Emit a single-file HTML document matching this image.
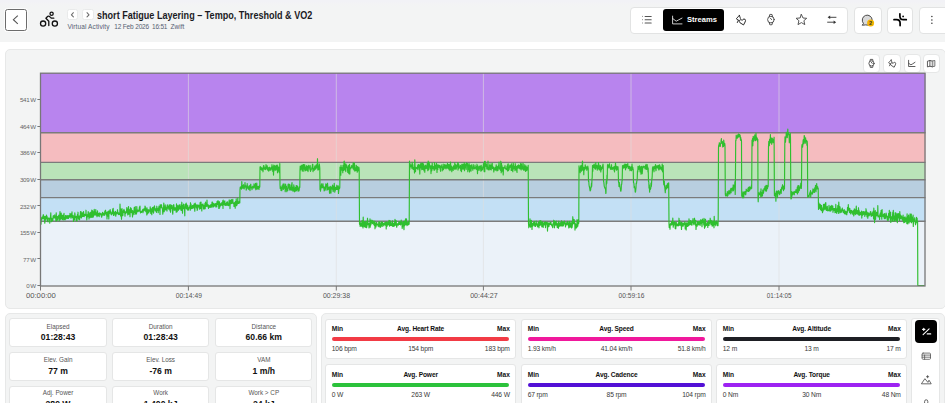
<!DOCTYPE html>
<html><head><meta charset="utf-8">
<style>
*{box-sizing:border-box;margin:0;padding:0}
html,body{width:945px;height:403px;overflow:hidden;background:#fff;font-family:"Liberation Sans",sans-serif;position:relative}
.abs{position:absolute}
#hdr{left:0;top:0;width:945px;height:41.5px;background:linear-gradient(#f2f2f6 0,#f2f2f6 1.8px,#f3f3f5 3px,#f3f4f4 7px)}
.back{left:5px;top:9px;width:22px;height:22px;border:1.3px solid #6c6c6c;border-radius:2.6px;background:#fff;box-shadow:0 0 0 1px rgba(255,255,255,0.7)}
.nb{width:11.3px;height:11.3px;background:#fff;border-radius:2.5px;top:9.1px;border:1px solid #e9eaea}
.title{left:97.1px;top:9.6px;font-size:10px;font-weight:bold;color:#1b1b1f;white-space:nowrap;transform:scaleX(0.906);transform-origin:0 0}
.sub{top:22.8px;font-size:6.5px;color:#566072;white-space:nowrap}
.grp{background:#fff;border-radius:4px;border:1px solid #e2e3e3}
.streams{left:663.2px;top:8.5px;width:61px;height:22.3px;background:#000;border-radius:3px}
.card{background:#f3f4f4;border:1px solid #e7e8e8;border-radius:5px}
.wc{background:#fff;border:1px solid #e5e6e6;border-radius:3px}
.lbl{font-size:6.9px;color:#555;text-align:center;width:100%;position:absolute;left:0;transform:scaleX(0.92)}
.val{font-size:9.8px;font-weight:bold;color:#111;text-align:center;width:100%;position:absolute;left:0;transform:scaleX(0.88)}
.mt{font-size:6.6px;font-weight:bold;color:#111;position:absolute;white-space:nowrap}
.mv{font-size:6.7px;color:#383838;position:absolute;white-space:nowrap;letter-spacing:-0.15px}
.bar{position:absolute;height:4px;border-radius:2px}
</style></head><body>
<div id="hdr" class="abs"></div>
<div class="abs back"></div>
<svg class="abs" style="left:0;top:0" width="945" height="403" viewBox="0 0 945 403">
 <!-- back chevron -->
 <path d="M17.8 15.6 L13.4 19.7 L17.8 23.8" fill="none" stroke="#555" stroke-width="1.1"/>
</svg>
<div class="abs nb" style="left:67.2px"></div>
<div class="abs nb" style="left:82.4px"></div>
<div class="abs title">short Fatigue Layering – Tempo, Threshold &amp; VO2</div>
<div class="abs sub" style="left:67.4px;letter-spacing:0.12px">Virtual Activity</div><div class="abs sub" style="left:114.2px;letter-spacing:-0.15px">12 Feb 2026</div><div class="abs sub" style="left:152px;letter-spacing:-0.2px">16:51</div><div class="abs sub" style="left:170.6px">Zwift</div>

<!-- toolbar -->
<div class="abs grp" style="left:630.3px;top:6.5px;width:218.2px;height:27.8px"></div>
<div class="abs streams"></div>
<div class="abs grp" style="left:853.7px;top:6.5px;width:28.4px;height:27.8px"></div>
<div class="abs grp" style="left:887.3px;top:6.5px;width:26px;height:27.8px"></div>
<div class="abs grp" style="left:918.7px;top:6.5px;width:40px;height:27.8px"></div>
<div class="abs" style="left:687px;top:14.5px;font-size:7.6px;font-weight:bold;color:#fff">Streams</div>

<!-- chart card -->
<div class="abs card" style="left:5px;top:49.3px;width:941px;height:259.6px"></div>
<div class="abs wc" style="left:862.8px;top:54px;width:17.6px;height:18.5px;border-color:#e6e7e7;border-radius:4px"></div>
<div class="abs wc" style="left:883.3px;top:54px;width:17.6px;height:18.5px;border-color:#e6e7e7;border-radius:4px"></div>
<div class="abs wc" style="left:903.5px;top:54px;width:17.1px;height:18.5px;border-color:#e6e7e7;border-radius:4px"></div>
<div class="abs wc" style="left:922.5px;top:54px;width:17.9px;height:18.5px;border-color:#e6e7e7;border-radius:4px"></div>

<!-- bottom panels -->
<div class="abs card" style="left:5px;top:313.2px;width:311.6px;height:120px"></div>
<div class="abs card" style="left:320.9px;top:313.2px;width:624.5px;height:120px"></div>

<svg class="abs" style="left:0;top:0" width="945" height="403" viewBox="0 0 945 403" font-family="Liberation Sans, sans-serif">
 <!-- zones -->
 <rect x="40.5" y="73" width="885" height="59.7" fill="#b884ee"/>
 <rect x="40.5" y="132.7" width="885" height="29.7" fill="#f5bcbf"/>
 <rect x="40.5" y="162.4" width="885" height="17.3" fill="#bae3b9"/>
 <rect x="40.5" y="179.7" width="885" height="17.9" fill="#b8cedf"/>
 <rect x="40.5" y="197.6" width="885" height="23.6" fill="#c3e0f5"/>
 <rect x="40.5" y="221.2" width="885" height="64.8" fill="#ebf2f9"/>
 <!-- grid -->
 <g stroke="#dedede" stroke-opacity="0.6" stroke-width="1">
  <line x1="188.4" y1="73" x2="188.4" y2="286"/>
  <line x1="336.3" y1="73" x2="336.3" y2="286"/>
  <line x1="483.4" y1="73" x2="483.4" y2="286"/>
  <line x1="631" y1="73" x2="631" y2="286"/>
  <line x1="779" y1="73" x2="779" y2="286"/>
 </g>
 <!-- boundaries -->
 <g stroke="#7b7b7b" stroke-width="1.4">
  <line x1="40.5" y1="132.7" x2="925.5" y2="132.7"/>
  <line x1="40.5" y1="162.4" x2="925.5" y2="162.4"/>
  <line x1="40.5" y1="179.7" x2="925.5" y2="179.7"/>
  <line x1="40.5" y1="197.6" x2="925.5" y2="197.6"/>
  <line x1="40.5" y1="221.2" x2="925.5" y2="221.2"/>
 </g>
 <path d="M40.5 218.5 40.8 217.0 41.0 224.1 41.2 219.7 41.5 218.3 41.8 218.7 42.0 219.3 42.2 217.0 42.5 217.9 42.8 218.5 43.0 216.6 43.2 214.8 43.5 214.9 43.8 218.5 44.0 219.1 44.2 216.6 44.5 218.7 44.8 223.2 45.0 220.8 45.2 216.4 45.5 220.0 45.8 219.9 46.0 218.0 46.2 218.6 46.5 215.0 46.8 216.8 47.0 216.4 47.2 217.0 47.5 220.4 47.8 221.3 48.0 221.9 48.2 218.2 48.5 218.1 48.8 218.0 49.0 218.8 49.2 218.7 49.5 218.3 49.8 223.1 50.0 218.0 50.2 219.2 50.5 216.7 50.8 212.8 51.0 218.2 51.2 218.9 51.5 221.7 51.8 218.3 52.0 219.5 52.2 219.9 52.5 220.7 52.8 220.7 53.0 217.8 53.2 215.9 53.5 216.9 53.8 215.7 54.0 216.0 54.2 218.1 54.5 217.0 54.8 214.8 55.0 216.8 55.2 217.0 55.5 217.7 55.8 219.5 56.0 221.2 56.2 212.8 56.5 218.4 56.8 218.1 57.0 220.5 57.2 216.6 57.5 219.9 57.8 218.0 58.0 217.1 58.2 216.1 58.5 217.8 58.8 215.2 59.0 218.1 59.2 220.9 59.5 218.6 59.8 214.1 60.0 211.6 60.2 217.2 60.5 218.2 60.8 219.8 61.0 217.0 61.2 213.0 61.5 217.7 61.8 218.5 62.0 218.4 62.2 215.4 62.5 219.6 62.8 218.6 63.0 217.1 63.2 215.0 63.5 215.4 63.8 220.0 64.0 213.3 64.2 219.7 64.5 217.8 64.8 217.8 65.0 219.1 65.2 219.8 65.5 215.5 65.8 215.5 66.0 218.7 66.2 216.0 66.5 217.2 66.8 218.2 67.0 215.5 67.2 216.0 67.5 218.3 67.8 215.8 68.0 218.4 68.2 215.6 68.5 218.4 68.8 216.2 69.0 216.8 69.2 215.6 69.5 217.1 69.8 217.0 70.0 213.3 70.2 214.2 70.5 216.8 70.8 214.3 71.0 218.2 71.2 215.4 71.5 213.5 71.8 216.2 72.0 211.9 72.2 217.0 72.5 217.7 72.8 215.8 73.0 216.9 73.2 215.4 73.5 221.5 73.8 216.9 74.0 217.9 74.2 218.7 74.5 219.9 74.8 212.8 75.0 214.4 75.2 217.4 75.5 217.2 75.8 217.8 76.0 216.6 76.2 220.7 76.5 217.7 76.8 216.2 77.0 221.0 77.2 218.1 77.5 214.4 77.8 216.8 78.0 212.2 78.2 217.8 78.5 218.4 78.8 219.3 79.0 216.4 79.2 216.1 79.5 219.8 79.8 217.7 80.0 215.8 80.2 217.6 80.5 211.6 80.8 214.2 81.0 211.6 81.2 215.4 81.5 218.0 81.8 214.5 82.0 212.9 82.2 216.5 82.5 212.8 82.8 215.5 83.0 212.9 83.2 216.4 83.5 211.6 83.8 214.3 84.0 215.7 84.2 216.7 84.5 215.2 84.8 214.3 85.0 215.5 85.2 215.0 85.5 214.7 85.8 215.5 86.0 210.2 86.2 215.0 86.5 216.4 86.8 219.9 87.0 217.5 87.2 214.7 87.5 216.7 87.8 216.8 88.0 214.3 88.2 211.5 88.5 213.4 88.8 214.0 89.0 219.1 89.2 217.4 89.5 217.5 89.8 212.9 90.0 214.5 90.2 212.7 90.5 217.0 90.8 217.6 91.0 212.2 91.2 216.1 91.5 214.8 91.8 210.1 92.0 217.4 92.2 215.4 92.5 210.9 92.8 211.0 93.0 212.3 93.2 217.2 93.5 215.9 93.8 215.3 94.0 214.2 94.2 209.4 94.5 211.7 94.8 214.9 95.0 214.0 95.2 213.9 95.5 214.4 95.8 209.6 96.0 215.3 96.2 214.2 96.5 214.0 96.8 212.8 97.0 216.7 97.2 216.2 97.5 210.9 97.8 215.2 98.0 214.1 98.2 215.5 98.5 213.3 98.8 213.7 99.0 216.5 99.2 216.7 99.5 213.7 99.8 212.8 100.0 214.2 100.2 214.1 100.5 213.7 100.8 215.0 101.0 214.1 101.2 213.9 101.5 217.1 101.8 216.9 102.0 213.5 102.2 215.7 102.5 212.3 102.8 212.9 103.0 214.7 103.2 214.1 103.5 215.1 103.8 213.2 104.0 214.4 104.2 215.4 104.5 214.7 104.8 211.2 105.0 213.9 105.2 212.7 105.5 210.2 105.8 212.4 106.0 213.3 106.2 215.0 106.5 212.4 106.8 214.3 107.0 218.9 107.2 215.3 107.5 211.9 107.8 216.2 108.0 213.5 108.2 214.6 108.5 211.0 108.8 218.9 109.0 213.3 109.2 212.0 109.5 210.8 109.8 213.3 110.0 209.9 110.2 209.7 110.5 212.0 110.8 211.6 111.0 214.1 111.2 213.0 111.5 214.8 111.8 212.8 112.0 213.1 112.2 214.0 112.5 211.2 112.8 208.9 113.0 213.2 113.2 208.3 113.5 215.4 113.8 211.6 114.0 212.9 114.2 212.9 114.5 214.0 114.8 212.4 115.0 215.2 115.2 212.8 115.5 211.3 115.8 216.1 116.0 212.3 116.2 212.6 116.5 213.9 116.8 213.1 117.0 213.9 117.2 213.3 117.5 209.7 117.8 212.7 118.0 212.4 118.2 212.7 118.5 214.6 118.8 213.4 119.0 213.2 119.2 214.5 119.5 214.5 119.8 214.1 120.0 204.0 120.2 208.4 120.5 215.9 120.8 212.8 121.0 209.2 121.2 213.2 121.5 219.3 121.8 211.0 122.0 208.5 122.2 212.6 122.5 215.7 122.8 215.6 123.0 213.7 123.2 211.5 123.5 210.1 123.8 211.6 124.0 209.4 124.2 212.5 124.5 210.5 124.8 213.1 125.0 216.1 125.2 212.5 125.5 212.5 125.8 211.8 126.0 213.3 126.2 211.2 126.5 211.2 126.8 207.5 127.0 208.6 127.2 212.5 127.5 212.2 127.8 214.9 128.0 212.1 128.2 209.2 128.5 206.6 128.8 214.2 129.0 209.4 129.2 213.2 129.5 210.0 129.8 210.3 130.0 216.7 130.2 211.2 130.5 207.7 130.8 212.5 131.0 212.0 131.2 208.3 131.5 211.2 131.8 212.9 132.0 210.3 132.2 211.9 132.5 216.9 132.8 210.7 133.0 211.8 133.2 214.8 133.5 213.0 133.8 212.6 134.0 211.7 134.2 207.5 134.5 208.7 134.8 210.1 135.0 214.5 135.2 206.6 135.5 212.0 135.8 212.1 136.0 213.4 136.2 210.0 136.5 213.9 136.8 206.5 137.0 210.5 137.2 210.1 137.5 209.8 137.8 211.9 138.0 210.4 138.2 211.2 138.5 210.6 138.8 211.1 139.0 209.7 139.2 209.3 139.5 206.8 139.8 211.2 140.0 206.1 140.2 211.0 140.5 213.0 140.8 212.1 141.0 211.6 141.2 211.9 141.5 212.4 141.8 212.0 142.0 210.9 142.2 211.5 142.5 209.9 142.8 210.6 143.0 212.7 143.2 209.0 143.5 210.8 143.8 209.1 144.0 211.0 144.2 209.4 144.5 208.5 144.8 210.2 145.0 206.1 145.2 206.3 145.5 208.7 145.8 211.6 146.0 209.3 146.2 208.9 146.5 208.7 146.8 215.0 147.0 207.7 147.2 211.0 147.5 213.9 147.8 211.6 148.0 209.8 148.2 209.6 148.5 212.5 148.8 212.8 149.0 210.7 149.2 210.1 149.5 210.8 149.8 210.6 150.0 211.2 150.2 206.8 150.5 210.6 150.8 213.4 151.0 208.7 151.2 212.2 151.5 209.7 151.8 214.7 152.0 208.7 152.2 208.8 152.5 207.5 152.8 211.3 153.0 207.3 153.2 212.0 153.5 213.2 153.8 210.8 154.0 206.7 154.2 209.2 154.5 205.9 154.8 208.7 155.0 208.2 155.2 210.8 155.5 210.7 155.8 210.1 156.0 208.8 156.2 211.6 156.5 212.4 156.8 206.2 157.0 209.3 157.2 208.0 157.5 210.3 157.8 210.2 158.0 209.4 158.2 212.6 158.5 207.9 158.8 210.1 159.0 206.0 159.2 208.2 159.5 210.1 159.8 209.6 160.0 214.5 160.2 204.5 160.5 207.2 160.8 207.7 161.0 207.1 161.2 207.0 161.5 204.7 161.8 207.6 162.0 207.2 162.2 207.5 162.5 209.7 162.8 214.1 163.0 212.5 163.2 209.0 163.5 208.7 163.8 203.1 164.0 211.6 164.2 211.6 164.5 208.7 164.8 209.3 165.0 207.0 165.2 204.8 165.5 209.9 165.8 206.9 166.0 209.3 166.2 207.5 166.5 209.3 166.8 210.3 167.0 211.1 167.2 205.1 167.5 206.4 167.8 204.9 168.0 208.1 168.2 206.0 168.5 207.9 168.8 207.9 169.0 209.3 169.2 208.5 169.5 204.9 169.8 208.7 170.0 210.6 170.2 209.3 170.5 212.2 170.8 204.6 171.0 208.6 171.2 208.5 171.5 205.8 171.8 205.5 172.0 208.8 172.2 208.6 172.5 211.6 172.8 214.1 173.0 208.4 173.2 205.5 173.5 205.0 173.8 204.6 174.0 206.7 174.2 210.1 174.5 209.2 174.8 207.9 175.0 210.1 175.2 207.9 175.5 208.7 175.8 209.8 176.0 207.5 176.2 212.3 176.5 203.8 176.8 205.6 177.0 206.9 177.2 211.6 177.5 207.6 177.8 205.7 178.0 207.0 178.2 209.5 178.5 210.3 178.8 207.3 179.0 205.1 179.2 209.2 179.5 208.9 179.8 206.0 180.0 204.6 180.2 208.1 180.5 206.0 180.8 209.8 181.0 207.0 181.2 210.5 181.5 206.5 181.8 202.2 182.0 206.5 182.2 208.4 182.5 213.2 182.8 205.5 183.0 207.6 183.2 208.2 183.5 204.0 183.8 208.6 184.0 206.8 184.2 207.2 184.5 208.0 184.8 215.8 185.0 204.5 185.2 208.8 185.5 204.2 185.8 205.6 186.0 206.3 186.2 203.1 186.5 208.6 186.8 204.6 187.0 208.5 187.2 209.3 187.5 206.6 187.8 205.7 188.0 210.5 188.2 207.2 188.5 209.6 188.8 208.1 189.0 207.9 189.2 207.6 189.5 207.9 189.8 206.3 190.0 205.4 190.2 210.3 190.5 202.7 190.8 209.0 191.0 204.0 191.2 208.5 191.5 206.1 191.8 207.0 192.0 208.4 192.2 206.6 192.5 205.5 192.8 207.6 193.0 208.5 193.2 205.5 193.5 205.3 193.8 207.1 194.0 207.3 194.2 203.8 194.5 207.0 194.8 211.1 195.0 207.7 195.2 203.0 195.5 205.2 195.8 205.9 196.0 207.0 196.2 204.9 196.5 207.9 196.8 206.6 197.0 205.1 197.2 210.4 197.5 209.4 197.8 207.8 198.0 204.8 198.2 206.2 198.5 206.8 198.8 206.5 199.0 205.3 199.2 206.8 199.5 207.8 199.8 209.3 200.0 203.8 200.2 202.3 200.5 206.7 200.8 208.5 201.0 202.1 201.2 207.2 201.5 205.8 201.8 211.0 202.0 205.2 202.2 204.3 202.5 205.5 202.8 204.5 203.0 204.0 203.2 205.6 203.5 208.4 203.8 205.5 204.0 209.3 204.2 208.4 204.5 205.8 204.8 205.1 205.0 203.4 205.2 208.6 205.5 202.1 205.8 204.8 206.0 203.2 206.2 206.4 206.5 206.2 206.8 203.5 207.0 200.1 207.2 205.0 207.5 204.4 207.8 206.6 208.0 206.3 208.2 204.9 208.5 208.5 208.8 206.1 209.0 207.1 209.2 205.9 209.5 206.7 209.8 207.3 210.0 205.4 210.2 205.2 210.5 206.2 210.8 207.4 211.0 204.5 211.2 207.5 211.5 204.8 211.8 206.4 212.0 202.3 212.2 201.9 212.5 205.1 212.8 202.8 213.0 207.3 213.2 205.9 213.5 204.1 213.8 203.7 214.0 206.5 214.2 205.7 214.5 204.4 214.8 204.7 215.0 205.4 215.2 203.5 215.5 204.1 215.8 206.9 216.0 206.1 216.2 203.6 216.5 206.4 216.8 207.0 217.0 201.6 217.2 204.4 217.5 201.8 217.8 204.5 218.0 200.5 218.2 201.5 218.5 202.4 218.8 208.5 219.0 203.1 219.2 208.5 219.5 201.7 219.8 206.4 220.0 206.9 220.2 203.5 220.5 205.2 220.8 204.2 221.0 205.5 221.2 203.8 221.5 204.2 221.8 202.6 222.0 203.3 222.2 205.3 222.5 204.2 222.8 200.6 223.0 208.5 223.2 200.1 223.5 204.6 223.8 201.6 224.0 201.5 224.2 203.3 224.5 204.5 224.8 200.8 225.0 205.5 225.2 204.4 225.5 203.5 225.8 203.5 226.0 205.4 226.2 203.2 226.5 205.3 226.8 202.1 227.0 204.0 227.2 204.7 227.5 201.9 227.8 205.4 228.0 203.8 228.2 203.9 228.5 205.6 228.8 205.1 229.0 202.0 229.2 199.9 229.5 205.1 229.8 201.6 230.0 208.6 230.2 202.6 230.5 200.2 230.8 202.9 231.0 203.7 231.2 203.3 231.5 199.5 231.8 203.5 232.0 200.4 232.2 203.2 232.5 200.1 232.8 199.4 233.0 202.0 233.2 203.4 233.5 203.1 233.8 203.5 234.0 206.4 234.2 202.8 234.5 204.9 234.8 205.4 235.0 202.1 235.2 208.2 235.5 201.5 235.8 204.0 236.0 204.3 236.2 198.9 236.5 205.7 236.8 201.0 237.0 205.1 237.2 204.0 237.5 203.6 237.8 198.0 238.0 203.4 238.2 202.7 238.5 202.7 238.8 203.5 239.0 202.5 239.2 201.4 239.5 201.5 239.8 202.9 240.0 189.4 240.2 187.4 240.5 186.9 240.8 187.9 241.0 188.3 241.2 188.9 241.5 189.2 241.8 181.5 242.0 185.7 242.2 187.6 242.5 185.5 242.8 188.3 243.0 188.1 243.2 186.9 243.5 184.7 243.8 186.9 244.0 188.5 244.2 189.0 244.5 186.1 244.8 186.6 245.0 182.5 245.2 185.8 245.5 187.1 245.8 185.8 246.0 186.1 246.2 190.2 246.5 189.0 246.8 185.8 247.0 188.3 247.2 183.5 247.5 188.0 247.8 185.9 248.0 186.2 248.2 187.8 248.5 189.3 248.8 187.1 249.0 189.2 249.2 189.1 249.5 185.7 249.8 189.7 250.0 190.6 250.2 188.4 250.5 184.7 250.8 184.2 251.0 187.4 251.2 187.8 251.5 187.8 251.8 187.2 252.0 189.6 252.2 187.3 252.5 186.7 252.8 186.2 253.0 187.9 253.2 187.3 253.5 186.8 253.8 188.0 254.0 183.8 254.2 184.9 254.5 187.0 254.8 185.9 255.0 185.5 255.2 188.3 255.5 183.4 255.8 189.8 256.0 187.1 256.2 188.7 256.5 188.4 256.8 183.0 257.0 189.2 257.2 187.8 257.5 187.0 257.8 189.0 258.0 186.3 258.2 186.9 258.5 188.0 258.8 187.1 259.0 189.5 259.2 186.0 259.5 187.4 259.8 186.7 260.0 167.3 260.2 166.6 260.5 167.0 260.8 167.0 261.0 169.5 261.2 167.5 261.5 169.9 261.8 169.8 262.0 167.8 262.2 170.1 262.5 168.7 262.8 168.7 263.0 171.8 263.2 169.4 263.5 165.5 263.8 166.8 264.0 165.7 264.2 168.6 264.5 167.5 264.8 169.3 265.0 168.5 265.2 169.7 265.5 167.2 265.8 169.5 266.0 164.6 266.2 168.6 266.5 166.7 266.8 166.1 267.0 168.2 267.2 165.7 267.5 169.8 267.8 167.2 268.0 168.8 268.2 170.5 268.5 171.1 268.8 170.1 269.0 167.7 269.2 170.7 269.5 167.2 269.8 168.5 270.0 169.4 270.2 169.3 270.5 168.9 270.8 170.5 271.0 167.6 271.2 169.7 271.5 168.7 271.8 166.5 272.0 164.7 272.2 167.2 272.5 168.4 272.8 171.5 273.0 166.9 273.2 167.1 273.5 175.1 273.8 165.0 274.0 170.9 274.2 166.4 274.5 165.7 274.8 167.7 275.0 166.4 275.2 170.0 275.5 170.2 275.8 165.9 276.0 169.0 276.2 167.5 276.5 165.4 276.8 169.9 277.0 169.7 277.2 165.1 277.5 172.8 277.8 166.0 278.0 172.0 278.2 167.8 278.5 167.4 278.8 170.2 279.0 169.1 279.2 170.4 279.5 172.7 279.8 163.6 280.0 184.8 280.2 188.5 280.5 186.6 280.8 187.5 281.0 190.5 281.2 188.0 281.5 187.6 281.8 190.7 282.0 185.9 282.2 188.1 282.5 186.3 282.8 185.7 283.0 184.0 283.2 189.5 283.5 189.1 283.8 184.3 284.0 183.8 284.2 185.6 284.5 188.0 284.8 188.6 285.0 186.4 285.2 191.7 285.5 184.1 285.8 185.1 286.0 188.1 286.2 189.9 286.5 186.6 286.8 191.6 287.0 188.0 287.2 189.2 287.5 189.5 287.8 190.6 288.0 185.2 288.2 184.1 288.5 186.2 288.8 187.4 289.0 184.0 289.2 188.6 289.5 188.8 289.8 190.2 290.0 184.7 290.2 188.7 290.5 188.4 290.8 189.9 291.0 187.4 291.2 190.1 291.5 185.9 291.8 184.0 292.0 182.6 292.2 190.1 292.5 187.0 292.8 187.9 293.0 191.1 293.2 190.0 293.5 191.0 293.8 184.8 294.0 188.2 294.2 186.6 294.5 191.8 294.8 189.7 295.0 191.4 295.2 190.8 295.5 187.6 295.8 189.9 296.0 190.8 296.2 185.5 296.5 190.8 296.8 188.5 297.0 185.6 297.2 189.5 297.5 189.0 297.8 186.5 298.0 191.1 298.2 190.8 298.5 188.5 298.8 188.1 299.0 191.0 299.2 189.8 299.5 186.7 299.8 187.5 300.0 170.0 300.2 166.2 300.5 170.0 300.8 169.6 301.0 169.3 301.2 165.7 301.5 167.3 301.8 167.0 302.0 165.1 302.2 171.0 302.5 170.1 302.8 167.5 303.0 164.8 303.2 171.3 303.5 164.6 303.8 167.4 304.0 164.6 304.2 167.3 304.5 169.4 304.8 164.8 305.0 170.9 305.2 166.5 305.5 169.2 305.8 170.3 306.0 168.6 306.2 169.6 306.5 166.6 306.8 165.5 307.0 170.4 307.2 167.6 307.5 167.2 307.8 166.5 308.0 171.6 308.2 170.2 308.5 166.2 308.8 165.3 309.0 168.0 309.2 166.7 309.5 167.7 309.8 168.1 310.0 170.0 310.2 165.5 310.5 171.4 310.8 169.9 311.0 170.1 311.2 169.0 311.5 169.2 311.8 168.9 312.0 167.3 312.2 167.4 312.5 164.4 312.8 164.3 313.0 171.6 313.2 168.5 313.5 168.6 313.8 170.0 314.0 169.1 314.2 170.4 314.5 166.9 314.8 168.6 315.0 165.9 315.2 169.3 315.5 167.5 315.8 168.1 316.0 168.8 316.2 164.8 316.5 165.3 316.8 167.6 317.0 166.8 317.2 167.1 317.5 158.7 317.8 169.3 318.0 170.2 318.2 166.0 318.5 166.0 318.8 168.3 319.0 169.4 319.2 163.8 319.5 165.2 319.8 168.4 320.0 189.4 320.2 188.9 320.5 191.2 320.8 185.9 321.0 189.0 321.2 185.6 321.5 183.8 321.8 186.0 322.0 187.5 322.2 187.1 322.5 187.8 322.8 185.1 323.0 183.7 323.2 186.5 323.5 186.6 323.8 188.5 324.0 188.9 324.2 191.0 324.5 187.3 324.8 187.0 325.0 188.3 325.2 190.1 325.5 187.6 325.8 183.9 326.0 186.5 326.2 184.9 326.5 184.4 326.8 187.8 327.0 190.2 327.2 187.4 327.5 183.2 327.8 186.6 328.0 189.5 328.2 189.0 328.5 188.5 328.8 188.2 329.0 187.1 329.2 188.2 329.5 192.8 329.8 193.4 330.0 188.0 330.2 186.3 330.5 188.4 330.8 187.1 331.0 193.1 331.2 187.0 331.5 188.3 331.8 187.1 332.0 188.0 332.2 189.2 332.5 185.0 332.8 187.5 333.0 190.6 333.2 191.6 333.5 189.3 333.8 185.8 334.0 188.1 334.2 183.3 334.5 187.5 334.8 192.2 335.0 190.9 335.2 187.4 335.5 190.2 335.8 187.4 336.0 187.6 336.2 188.9 336.5 189.3 336.8 185.2 337.0 189.5 337.2 187.4 337.5 188.2 337.8 189.4 338.0 185.9 338.2 185.8 338.5 193.4 338.8 190.3 339.0 187.1 339.2 187.5 339.5 188.7 339.8 187.5 340.0 167.2 340.2 167.6 340.5 168.3 340.8 175.2 341.0 165.3 341.2 167.8 341.5 167.4 341.8 168.4 342.0 170.2 342.2 167.8 342.5 168.2 342.8 172.8 343.0 165.4 343.2 170.0 343.5 169.9 343.8 170.4 344.0 161.9 344.2 161.1 344.5 166.7 344.8 169.7 345.0 167.2 345.2 163.8 345.5 169.8 345.8 171.6 346.0 164.0 346.2 167.0 346.5 165.0 346.8 165.7 347.0 167.5 347.2 166.9 347.5 169.5 347.8 172.4 348.0 168.4 348.2 169.6 348.5 165.6 348.8 173.6 349.0 170.2 349.2 169.4 349.5 164.4 349.8 174.1 350.0 168.6 350.2 167.9 350.5 167.6 350.8 168.7 351.0 168.1 351.2 167.2 351.5 165.5 351.8 167.4 352.0 166.6 352.2 167.0 352.5 167.2 352.8 164.9 353.0 168.7 353.2 162.8 353.5 163.5 353.8 169.6 354.0 169.9 354.2 163.1 354.5 163.7 354.8 171.1 355.0 169.7 355.2 169.7 355.5 167.9 355.8 170.6 356.0 170.6 356.2 165.3 356.5 166.2 356.8 170.4 357.0 169.0 357.2 172.1 357.5 166.6 357.8 171.3 358.0 167.9 358.2 170.2 358.5 170.5 358.8 167.1 359.0 167.8 359.2 170.0 359.5 224.2 359.8 221.3 360.0 224.5 360.2 226.4 360.5 225.0 360.8 222.9 361.0 223.7 361.2 225.7 361.5 225.5 361.8 226.4 362.0 220.5 362.2 222.1 362.5 221.9 362.8 226.5 363.0 228.0 363.2 217.0 363.5 224.9 363.8 223.5 364.0 222.1 364.2 226.5 364.5 221.7 364.8 225.4 365.0 221.9 365.2 227.5 365.5 223.8 365.8 223.8 366.0 221.4 366.2 224.8 366.5 227.7 366.8 227.0 367.0 225.4 367.2 224.0 367.5 218.2 367.8 222.3 368.0 224.7 368.2 223.8 368.5 223.3 368.8 223.8 369.0 227.9 369.2 223.7 369.5 226.0 369.8 224.5 370.0 218.9 370.2 227.2 370.5 221.9 370.8 225.1 371.0 224.3 371.2 220.1 371.5 223.1 371.8 222.9 372.0 222.9 372.2 221.1 372.5 223.6 372.8 220.3 373.0 221.3 373.2 223.0 373.5 221.6 373.8 224.7 374.0 222.3 374.2 224.3 374.5 225.5 374.8 221.0 375.0 228.8 375.2 226.0 375.5 224.3 375.8 223.3 376.0 226.9 376.2 222.5 376.5 225.1 376.8 222.6 377.0 224.7 377.2 224.0 377.5 224.3 377.8 225.1 378.0 225.6 378.2 226.3 378.5 225.7 378.8 221.8 379.0 221.6 379.2 226.9 379.5 223.5 379.8 222.2 380.0 222.4 380.2 223.8 380.5 227.3 380.8 226.0 381.0 223.8 381.2 224.0 381.5 222.6 381.8 221.8 382.0 226.1 382.2 226.4 382.5 223.7 382.8 222.5 383.0 224.4 383.2 223.3 383.5 224.6 383.8 225.9 384.0 223.6 384.2 224.4 384.5 223.6 384.8 222.5 385.0 224.7 385.2 222.4 385.5 225.1 385.8 223.4 386.0 222.0 386.2 229.0 386.5 221.8 386.8 223.6 387.0 226.5 387.2 224.4 387.5 225.0 387.8 222.3 388.0 221.9 388.2 224.8 388.5 222.5 388.8 224.6 389.0 220.3 389.2 220.8 389.5 226.2 389.8 224.2 390.0 220.6 390.2 225.0 390.5 225.6 390.8 222.2 391.0 222.4 391.2 225.5 391.5 225.2 391.8 223.9 392.0 225.6 392.2 225.0 392.5 220.9 392.8 226.4 393.0 224.0 393.2 225.9 393.5 223.7 393.8 225.0 394.0 226.5 394.2 222.9 394.5 225.6 394.8 223.3 395.0 219.4 395.2 221.4 395.5 223.3 395.8 225.4 396.0 223.2 396.2 220.7 396.5 225.9 396.8 227.3 397.0 224.7 397.2 224.7 397.5 223.7 397.8 224.0 398.0 224.7 398.2 225.2 398.5 224.8 398.8 221.8 399.0 223.5 399.2 221.8 399.5 224.5 399.8 224.3 400.0 223.4 400.2 222.0 400.5 224.9 400.8 223.5 401.0 224.2 401.2 220.1 401.5 223.7 401.8 222.4 402.0 225.0 402.2 228.5 402.5 225.7 402.8 223.7 403.0 222.4 403.2 221.6 403.5 224.7 403.8 227.9 404.0 229.6 404.2 221.1 404.5 223.6 404.8 225.7 405.0 224.8 405.2 223.6 405.5 218.9 405.8 222.6 406.0 224.4 406.2 219.9 406.5 218.9 406.8 223.6 407.0 225.6 407.2 224.5 407.5 223.9 407.8 222.8 408.0 222.2 408.2 225.0 408.5 223.5 408.8 221.1 409.0 224.4 409.2 223.4 409.5 161.1 409.8 169.2 410.0 163.6 410.2 167.1 410.5 166.1 410.8 166.8 411.0 164.8 411.2 166.5 411.5 166.0 411.8 167.7 412.0 168.6 412.2 162.2 412.5 167.7 412.8 164.6 413.0 167.0 413.2 169.5 413.5 168.9 413.8 168.6 414.0 167.3 414.2 168.4 414.5 173.0 414.8 159.8 415.0 165.2 415.2 170.0 415.5 171.6 415.8 167.4 416.0 168.3 416.2 167.8 416.5 168.1 416.8 168.5 417.0 167.4 417.2 168.7 417.5 167.6 417.8 165.0 418.0 169.7 418.2 165.3 418.5 164.5 418.8 167.9 419.0 167.8 419.2 165.0 419.5 166.9 419.8 174.1 420.0 167.9 420.2 164.7 420.5 167.9 420.8 163.3 421.0 166.5 421.2 166.2 421.5 167.3 421.8 169.6 422.0 163.2 422.2 169.1 422.5 165.3 422.8 163.0 423.0 169.5 423.2 168.6 423.5 164.1 423.8 168.6 424.0 170.8 424.2 165.9 424.5 166.8 424.8 172.3 425.0 168.4 425.2 166.1 425.5 165.2 425.8 168.4 426.0 165.9 426.2 165.8 426.5 166.6 426.8 168.1 427.0 168.7 427.2 163.6 427.5 165.5 427.8 170.7 428.0 170.3 428.2 161.0 428.5 167.2 428.8 169.6 429.0 164.7 429.2 162.3 429.5 166.7 429.8 166.3 430.0 165.2 430.2 168.3 430.5 166.7 430.8 168.7 431.0 173.6 431.2 165.9 431.5 171.0 431.8 170.7 432.0 167.2 432.2 163.2 432.5 168.8 432.8 167.6 433.0 168.0 433.2 166.5 433.5 169.0 433.8 167.8 434.0 166.6 434.2 170.4 434.5 162.6 434.8 169.7 435.0 166.4 435.2 165.6 435.5 166.7 435.8 165.8 436.0 168.8 436.2 164.2 436.5 163.4 436.8 166.8 437.0 172.4 437.2 168.7 437.5 165.4 437.8 169.5 438.0 164.6 438.2 167.7 438.5 166.5 438.8 165.6 439.0 166.3 439.2 167.4 439.5 165.3 439.8 167.2 440.0 168.7 440.2 167.7 440.5 171.3 440.8 165.7 441.0 165.7 441.2 167.0 441.5 167.3 441.8 166.7 442.0 164.5 442.2 170.9 442.5 169.4 442.8 168.3 443.0 166.8 443.2 169.1 443.5 169.7 443.8 164.2 444.0 167.2 444.2 165.6 444.5 166.6 444.8 168.3 445.0 164.5 445.2 166.9 445.5 166.9 445.8 167.9 446.0 169.0 446.2 165.0 446.5 166.0 446.8 166.6 447.0 167.9 447.2 166.4 447.5 163.3 447.8 167.3 448.0 168.5 448.2 164.8 448.5 166.5 448.8 164.5 449.0 169.7 449.2 168.4 449.5 164.7 449.8 168.7 450.0 170.6 450.2 165.8 450.5 162.1 450.8 167.2 451.0 169.7 451.2 167.8 451.5 166.1 451.8 171.6 452.0 167.7 452.2 169.8 452.5 169.8 452.8 167.0 453.0 169.0 453.2 170.4 453.5 165.8 453.8 166.9 454.0 166.2 454.2 166.7 454.5 169.0 454.8 162.8 455.0 169.3 455.2 168.3 455.5 166.2 455.8 164.7 456.0 168.1 456.2 169.2 456.5 167.2 456.8 165.1 457.0 167.0 457.2 166.2 457.5 165.9 457.8 162.5 458.0 170.1 458.2 162.9 458.5 168.8 458.8 165.1 459.0 164.9 459.2 166.5 459.5 166.9 459.8 168.1 460.0 167.0 460.2 167.6 460.5 165.4 460.8 170.6 461.0 166.6 461.2 167.5 461.5 171.6 461.8 164.3 462.0 167.4 462.2 169.3 462.5 168.6 462.8 167.0 463.0 164.2 463.2 167.1 463.5 169.1 463.8 168.3 464.0 166.9 464.2 162.7 464.5 170.7 464.8 165.5 465.0 164.3 465.2 164.0 465.5 166.8 465.8 168.1 466.0 168.1 466.2 169.5 466.5 162.8 466.8 165.5 467.0 165.3 467.2 164.4 467.5 163.6 467.8 171.7 468.0 168.8 468.2 168.0 468.5 164.9 468.8 169.6 469.0 163.5 469.2 164.0 469.5 172.0 469.8 168.4 470.0 167.7 470.2 165.3 470.5 167.9 470.8 170.7 471.0 171.2 471.2 167.6 471.5 164.9 471.8 167.5 472.0 168.1 472.2 167.8 472.5 167.3 472.8 170.2 473.0 166.7 473.2 164.5 473.5 166.9 473.8 167.0 474.0 168.7 474.2 168.3 474.5 168.8 474.8 168.4 475.0 165.1 475.2 167.6 475.5 168.1 475.8 167.8 476.0 168.0 476.2 169.4 476.5 166.4 476.8 167.0 477.0 164.2 477.2 167.8 477.5 173.6 477.8 165.8 478.0 167.5 478.2 169.2 478.5 169.3 478.8 168.7 479.0 170.5 479.2 166.3 479.5 167.6 479.8 166.1 480.0 169.0 480.2 167.8 480.5 166.0 480.8 170.5 481.0 171.3 481.2 165.4 481.5 168.5 481.8 168.0 482.0 170.3 482.2 168.5 482.5 169.7 482.8 166.7 483.0 166.8 483.2 166.6 483.5 163.6 483.8 165.7 484.0 169.9 484.2 171.6 484.5 161.4 484.8 171.7 485.0 165.9 485.2 161.3 485.5 165.2 485.8 164.5 486.0 166.3 486.2 165.8 486.5 163.8 486.8 168.9 487.0 167.3 487.2 166.5 487.5 169.0 487.8 166.0 488.0 161.1 488.2 169.8 488.5 167.6 488.8 167.9 489.0 169.2 489.2 170.0 489.5 165.2 489.8 168.6 490.0 163.8 490.2 167.1 490.5 169.3 490.8 167.0 491.0 165.6 491.2 170.0 491.5 165.7 491.8 164.4 492.0 163.8 492.2 163.3 492.5 168.5 492.8 166.6 493.0 168.6 493.2 167.7 493.5 167.3 493.8 172.0 494.0 169.3 494.2 169.2 494.5 169.9 494.8 168.1 495.0 167.4 495.2 168.3 495.5 168.3 495.8 170.3 496.0 167.3 496.2 164.9 496.5 167.4 496.8 168.5 497.0 170.9 497.2 166.6 497.5 167.2 497.8 167.1 498.0 170.4 498.2 169.0 498.5 165.1 498.8 167.6 499.0 162.0 499.2 165.5 499.5 168.9 499.8 169.1 500.0 167.5 500.2 168.3 500.5 170.3 500.8 161.2 501.0 166.6 501.2 172.8 501.5 163.6 501.8 171.5 502.0 165.5 502.2 168.1 502.5 170.4 502.8 167.6 503.0 170.0 503.2 174.9 503.5 169.4 503.8 167.4 504.0 167.6 504.2 167.4 504.5 167.8 504.8 167.8 505.0 165.5 505.2 168.5 505.5 167.9 505.8 168.8 506.0 169.3 506.2 169.6 506.5 169.1 506.8 168.3 507.0 166.0 507.2 168.4 507.5 170.9 507.8 164.2 508.0 167.3 508.2 163.9 508.5 170.7 508.8 169.2 509.0 169.5 509.2 168.7 509.5 167.1 509.8 165.4 510.0 165.0 510.2 167.3 510.5 166.0 510.8 167.1 511.0 165.1 511.2 170.4 511.5 163.8 511.8 170.4 512.0 167.7 512.2 167.2 512.5 165.9 512.8 171.6 513.0 168.2 513.2 163.1 513.5 165.6 513.8 169.0 514.0 167.0 514.2 168.5 514.5 167.4 514.8 166.1 515.0 170.6 515.2 163.6 515.5 165.8 515.8 166.1 516.0 166.7 516.2 170.0 516.5 166.5 516.8 171.1 517.0 172.4 517.2 166.0 517.5 165.9 517.8 165.7 518.0 168.1 518.2 166.3 518.5 164.9 518.8 165.7 519.0 168.0 519.2 168.2 519.5 165.6 519.8 168.6 520.0 168.5 520.2 169.0 520.5 163.5 520.8 168.4 521.0 166.8 521.2 169.9 521.5 163.8 521.8 168.1 522.0 168.5 522.2 168.2 522.5 169.1 522.8 166.7 523.0 163.4 523.2 164.4 523.5 169.0 523.8 170.3 524.0 168.2 524.2 167.2 524.5 167.1 524.8 164.7 525.0 170.3 525.2 169.5 525.5 171.5 525.8 170.3 526.0 165.9 526.2 166.5 526.5 167.3 526.8 170.6 527.0 169.0 527.2 167.2 527.5 167.9 527.8 169.1 528.0 169.4 528.2 165.3 528.5 223.4 528.8 227.8 529.0 226.2 529.2 224.7 529.5 225.5 529.8 226.2 530.0 218.8 530.2 224.2 530.5 227.1 530.8 225.4 531.0 226.7 531.2 220.4 531.5 220.8 531.8 223.3 532.0 229.4 532.2 225.0 532.5 223.5 532.8 226.2 533.0 223.6 533.2 225.0 533.5 222.9 533.8 222.0 534.0 225.1 534.2 221.7 534.5 221.4 534.8 226.2 535.0 225.6 535.2 225.9 535.5 226.5 535.8 223.3 536.0 223.3 536.2 221.0 536.5 224.9 536.8 223.8 537.0 224.0 537.2 225.5 537.5 226.2 537.8 227.0 538.0 223.9 538.2 222.3 538.5 225.6 538.8 224.1 539.0 227.8 539.2 221.2 539.5 224.6 539.8 222.6 540.0 220.9 540.2 225.5 540.5 224.1 540.8 220.7 541.0 221.2 541.2 221.5 541.5 223.9 541.8 226.8 542.0 225.6 542.2 225.8 542.5 221.9 542.8 227.0 543.0 226.9 543.2 227.4 543.5 223.7 543.8 223.5 544.0 222.3 544.2 224.5 544.5 224.9 544.8 223.0 545.0 222.8 545.2 221.8 545.5 227.6 545.8 225.2 546.0 222.2 546.2 224.3 546.5 222.5 546.8 223.2 547.0 223.9 547.2 222.2 547.5 231.1 547.8 223.9 548.0 223.3 548.2 222.9 548.5 226.8 548.8 223.2 549.0 226.5 549.2 224.6 549.5 223.2 549.8 224.4 550.0 224.4 550.2 222.3 550.5 224.4 550.8 222.7 551.0 222.3 551.2 224.8 551.5 224.5 551.8 225.5 552.0 224.9 552.2 226.2 552.5 227.0 552.8 227.7 553.0 224.3 553.2 222.8 553.5 224.2 553.8 220.2 554.0 224.1 554.2 224.4 554.5 227.8 554.8 221.2 555.0 223.0 555.2 223.6 555.5 221.7 555.8 225.2 556.0 222.0 556.2 221.1 556.5 224.9 556.8 223.3 557.0 224.4 557.2 227.5 557.5 227.6 557.8 224.1 558.0 223.6 558.2 222.5 558.5 228.3 558.8 221.2 559.0 222.2 559.2 223.3 559.5 224.5 559.8 226.3 560.0 225.4 560.2 224.0 560.5 222.5 560.8 224.6 561.0 225.6 561.2 226.0 561.5 220.8 561.8 225.8 562.0 222.5 562.2 224.3 562.5 221.8 562.8 223.9 563.0 226.3 563.2 224.5 563.5 225.5 563.8 221.7 564.0 223.5 564.2 223.8 564.5 221.0 564.8 223.8 565.0 223.2 565.2 223.2 565.5 226.9 565.8 224.1 566.0 222.6 566.2 225.0 566.5 224.3 566.8 222.9 567.0 223.8 567.2 225.0 567.5 221.4 567.8 221.7 568.0 223.6 568.2 223.9 568.5 224.9 568.8 228.0 569.0 224.3 569.2 222.6 569.5 221.3 569.8 227.2 570.0 222.3 570.2 227.1 570.5 222.9 570.8 224.2 571.0 225.4 571.2 224.5 571.5 227.9 571.8 221.5 572.0 227.7 572.2 226.3 572.5 224.0 572.8 216.7 573.0 222.4 573.2 223.9 573.5 223.6 573.8 219.4 574.0 221.7 574.2 219.6 574.5 222.3 574.8 224.8 575.0 230.1 575.2 223.0 575.5 224.5 575.8 225.0 576.0 226.2 576.2 228.2 576.5 224.2 576.8 227.4 577.0 219.7 577.2 223.9 577.5 225.5 577.8 226.3 578.0 222.7 578.2 219.7 578.5 223.7 578.8 222.8 579.0 165.9 579.2 168.9 579.5 169.2 579.8 170.5 580.0 167.8 580.2 172.7 580.5 167.2 580.8 165.7 581.0 168.6 581.2 165.5 581.5 171.1 581.8 169.5 582.0 167.5 582.2 164.9 582.5 161.1 582.8 169.3 583.0 170.3 583.2 170.0 583.5 167.3 583.8 174.7 584.0 167.3 584.2 168.2 584.5 168.2 584.8 169.8 585.0 168.0 585.2 164.8 585.5 166.7 585.8 166.4 586.0 168.3 586.2 167.6 586.5 167.1 586.8 170.3 587.0 169.5 587.2 167.2 587.5 167.8 587.8 166.0 588.0 168.3 588.2 167.7 588.5 181.6 588.8 181.4 589.0 184.8 589.3 186.5 589.6 187.7 589.9 189.7 590.1 190.9 590.4 190.4 590.7 189.8 590.9 186.8 591.2 187.4 591.5 183.1 591.7 186.4 592.0 178.7 592.2 177.8 592.5 165.6 592.8 171.2 593.0 166.0 593.2 165.2 593.5 166.4 593.8 164.9 594.0 167.5 594.2 164.1 594.5 166.1 594.8 168.6 595.0 166.0 595.2 168.8 595.5 169.2 595.8 162.6 596.0 166.8 596.2 165.6 596.5 167.9 596.8 166.7 597.0 165.4 597.2 170.1 597.5 166.7 597.8 168.1 598.0 169.0 598.2 165.8 598.5 162.6 598.8 167.6 599.0 164.8 599.2 169.8 599.5 167.5 599.8 170.0 600.0 165.9 600.2 167.1 600.5 165.5 600.8 171.9 601.0 167.5 601.2 169.6 601.5 169.6 601.8 167.0 602.0 168.5 602.2 167.9 602.5 166.4 602.8 165.5 603.0 164.0 603.2 166.0 603.5 180.8 603.8 182.1 604.0 183.9 604.2 185.8 604.5 187.0 604.8 187.8 605.0 188.1 605.2 188.7 605.5 188.0 605.8 193.5 606.0 192.8 606.2 181.0 606.5 184.1 606.8 183.1 607.0 175.1 607.2 180.1 607.5 165.3 607.8 164.3 608.0 168.0 608.2 167.9 608.5 166.7 608.8 165.2 609.0 166.0 609.2 167.0 609.5 163.7 609.8 167.8 610.0 167.4 610.2 167.9 610.5 169.1 610.8 167.2 611.0 169.4 611.2 168.7 611.5 164.7 611.8 169.1 612.0 167.3 612.2 167.8 612.5 169.3 612.8 167.9 613.0 168.1 613.2 168.3 613.5 167.1 613.8 168.5 614.0 170.2 614.2 166.5 614.5 171.9 614.8 169.0 615.0 169.4 615.2 166.9 615.5 163.1 615.8 167.5 616.0 168.3 616.2 166.1 616.5 170.2 616.8 167.0 617.0 169.7 617.2 166.6 617.5 168.5 617.8 167.9 618.0 166.9 618.2 169.7 618.5 182.3 618.8 181.9 619.0 186.4 619.3 182.3 619.6 184.3 619.8 186.3 620.1 187.7 620.4 188.4 620.6 191.0 620.9 191.2 621.2 189.5 621.4 184.5 621.7 184.4 622.0 180.7 622.2 180.5 622.5 165.6 622.8 166.9 623.0 165.9 623.2 168.2 623.5 168.0 623.8 165.1 624.0 165.4 624.2 167.7 624.5 167.3 624.8 164.1 625.0 167.8 625.2 164.5 625.5 169.8 625.8 165.9 626.0 164.2 626.2 164.8 626.5 167.8 626.8 165.7 627.0 164.6 627.2 166.2 627.5 166.5 627.8 163.6 628.0 165.7 628.2 168.3 628.5 168.0 628.8 168.6 629.0 168.6 629.2 166.3 629.5 166.5 629.8 168.2 630.0 170.7 630.2 170.5 630.5 169.0 630.8 166.9 631.0 167.7 631.2 166.9 631.5 170.8 631.8 168.5 632.0 164.0 632.2 167.3 632.5 169.7 632.8 167.2 633.0 169.7 633.2 169.1 633.5 182.4 633.8 183.0 634.0 184.4 634.2 187.7 634.5 186.3 634.8 187.9 635.0 188.5 635.2 191.9 635.5 192.1 635.8 189.5 636.0 187.7 636.2 183.1 636.5 183.7 636.8 181.1 637.0 180.4 637.2 179.3 637.5 170.8 637.8 172.0 638.0 166.3 638.2 169.9 638.5 168.2 638.8 169.1 639.0 168.0 639.2 166.2 639.5 165.8 639.8 169.5 640.0 171.3 640.2 172.0 640.5 166.8 640.8 169.0 641.0 174.2 641.2 167.5 641.5 166.4 641.8 168.5 642.0 169.6 642.2 173.6 642.5 170.2 642.8 166.8 643.0 166.3 643.2 167.7 643.5 167.0 643.8 166.2 644.0 166.7 644.2 166.9 644.5 166.7 644.8 167.3 645.0 168.8 645.2 168.9 645.5 165.3 645.8 165.5 646.0 164.4 646.2 169.1 646.5 166.5 646.8 169.4 647.0 167.3 647.2 164.5 647.5 168.6 647.8 167.0 648.0 171.9 648.2 168.4 648.5 181.4 648.8 181.8 649.0 188.1 649.3 184.7 649.6 192.1 649.9 187.9 650.2 188.7 650.4 189.4 650.7 188.5 651.0 183.1 651.2 186.8 651.5 185.1 651.7 180.6 652.0 178.7 652.2 176.1 652.5 167.7 652.8 168.5 653.0 166.6 653.2 167.1 653.5 170.0 653.8 168.1 654.0 171.8 654.2 166.7 654.5 167.2 654.8 168.5 655.0 166.0 655.2 166.9 655.5 164.5 655.8 169.7 656.0 170.8 656.2 167.6 656.5 166.1 656.8 167.7 657.0 166.6 657.2 165.6 657.5 167.7 657.8 167.4 658.0 167.5 658.2 168.7 658.5 165.4 658.8 169.9 659.0 169.9 659.2 168.3 659.5 164.8 659.8 165.5 660.0 166.0 660.2 169.0 660.5 166.7 660.8 167.6 661.0 168.6 661.2 169.1 661.5 170.0 661.8 167.0 662.0 167.9 662.2 164.1 662.5 171.8 662.8 168.2 663.0 166.4 663.2 165.5 663.5 181.2 663.8 184.7 664.0 184.9 664.3 181.0 664.5 185.9 664.8 187.5 665.1 191.0 665.3 192.6 665.6 187.0 665.9 188.3 666.1 185.3 666.4 188.9 666.6 188.5 666.9 187.6 667.2 186.3 667.4 183.8 667.7 187.6 668.0 183.3 668.2 186.8 668.5 184.2 668.7 182.9 669.0 223.5 669.2 227.5 669.5 224.1 669.8 224.6 670.0 229.1 670.2 224.6 670.5 223.7 670.8 224.1 671.0 224.6 671.2 225.0 671.5 221.5 671.8 225.0 672.0 223.8 672.2 224.0 672.5 223.5 672.8 218.0 673.0 223.1 673.2 227.2 673.5 224.2 673.8 225.1 674.0 223.6 674.2 222.1 674.5 221.9 674.8 223.9 675.0 222.3 675.2 228.6 675.5 224.6 675.8 228.8 676.0 224.8 676.2 222.2 676.5 224.3 676.8 224.2 677.0 224.4 677.2 225.8 677.5 225.1 677.8 225.7 678.0 224.9 678.2 223.0 678.5 225.8 678.8 224.2 679.0 218.2 679.2 222.3 679.5 225.2 679.8 220.6 680.0 224.2 680.2 224.0 680.5 224.7 680.8 225.6 681.0 222.5 681.2 224.5 681.5 229.5 681.8 222.4 682.0 226.4 682.2 224.9 682.5 223.3 682.8 225.9 683.0 223.2 683.2 226.2 683.5 223.2 683.8 223.1 684.0 223.8 684.2 224.6 684.5 223.3 684.8 221.9 685.0 222.9 685.2 229.0 685.5 225.0 685.8 223.2 686.0 225.5 686.2 230.0 686.5 222.9 686.8 223.4 687.0 223.5 687.2 226.3 687.5 223.4 687.8 226.4 688.0 221.7 688.2 223.3 688.5 221.4 688.8 225.4 689.0 218.8 689.2 221.6 689.5 222.0 689.8 224.7 690.0 221.9 690.2 220.8 690.5 223.4 690.8 220.6 691.0 224.6 691.2 222.5 691.5 222.8 691.8 225.2 692.0 225.1 692.2 221.2 692.5 222.3 692.8 220.6 693.0 218.5 693.2 221.8 693.5 223.3 693.8 224.3 694.0 224.8 694.2 223.1 694.5 218.2 694.8 221.0 695.0 221.7 695.2 222.3 695.5 225.2 695.8 220.4 696.0 229.4 696.2 226.1 696.5 224.8 696.8 225.4 697.0 224.5 697.2 226.2 697.5 221.6 697.8 221.6 698.0 221.9 698.2 222.7 698.5 224.8 698.8 224.4 699.0 221.7 699.2 221.2 699.5 221.4 699.8 224.1 700.0 225.4 700.2 225.1 700.5 221.7 700.8 219.7 701.0 221.6 701.2 223.4 701.5 220.2 701.8 224.5 702.0 226.6 702.2 223.1 702.5 219.1 702.8 221.1 703.0 222.1 703.2 222.6 703.5 221.1 703.8 225.0 704.0 218.3 704.2 219.3 704.5 228.3 704.8 223.3 705.0 224.9 705.2 226.9 705.5 219.2 705.8 225.8 706.0 223.9 706.2 223.8 706.5 225.4 706.8 224.2 707.0 223.3 707.2 222.6 707.5 222.5 707.8 227.4 708.0 223.3 708.2 225.7 708.5 223.4 708.8 220.6 709.0 225.4 709.2 222.1 709.5 223.6 709.8 223.2 710.0 222.4 710.2 218.2 710.5 221.6 710.8 221.4 711.0 224.8 711.2 221.2 711.5 221.1 711.8 220.4 712.0 223.6 712.2 226.1 712.5 222.0 712.8 225.4 713.0 224.5 713.2 222.7 713.5 221.2 713.8 225.9 714.0 227.8 714.2 216.3 714.5 224.1 714.8 221.5 715.0 224.6 715.2 223.7 715.5 222.1 715.8 225.8 716.0 223.8 716.2 220.9 716.5 223.6 716.8 221.8 717.0 223.0 717.2 223.1 717.5 225.7 717.8 224.9 718.0 225.7 718.2 218.2 718.5 147.5 718.8 144.8 719.0 146.7 719.3 142.7 719.5 143.4 719.8 143.8 720.1 143.8 720.3 146.4 720.6 143.5 720.9 143.5 721.1 140.6 721.4 138.5 721.6 143.1 721.9 142.1 722.2 141.5 722.4 141.5 722.7 147.0 722.9 146.6 723.2 142.7 723.5 146.4 723.7 140.1 724.0 142.8 724.3 143.3 724.5 145.6 724.8 143.6 725.0 146.1 725.3 194.3 725.6 196.0 725.8 193.3 726.1 196.0 726.3 195.0 726.6 195.6 726.8 195.6 727.1 195.9 727.3 191.5 727.6 196.1 727.8 195.4 728.1 195.1 728.3 192.2 728.6 191.5 728.9 190.7 729.1 193.0 729.4 193.9 729.6 190.9 729.9 193.9 730.1 190.1 730.4 191.5 730.6 190.9 730.9 188.3 731.1 192.8 731.4 188.3 731.6 190.3 731.9 189.6 732.1 188.6 732.4 187.9 732.7 190.2 732.9 191.1 733.2 184.8 733.4 190.4 733.7 189.9 733.9 186.5 734.2 185.5 734.4 185.7 734.7 185.4 734.9 181.5 735.2 194.5 735.4 186.4 735.7 140.6 736.0 140.4 736.2 135.1 736.5 136.4 736.7 136.8 737.0 138.2 737.2 138.3 737.5 137.1 737.7 134.8 738.0 137.4 738.2 136.3 738.5 134.3 738.7 133.9 739.0 135.8 739.2 136.8 739.5 135.6 739.7 134.5 740.0 135.5 740.2 135.4 740.5 140.3 740.7 137.2 741.0 139.5 741.2 139.4 741.5 140.8 741.7 196.2 742.0 195.5 742.2 194.0 742.5 194.4 742.7 197.8 743.0 191.8 743.2 193.1 743.5 194.5 743.7 197.6 744.0 192.5 744.2 191.9 744.5 192.3 744.7 192.4 745.0 194.1 745.2 191.6 745.5 191.6 745.7 194.8 746.0 192.7 746.2 189.2 746.5 190.2 746.7 191.2 747.0 190.6 747.2 190.9 747.5 190.7 747.7 191.1 748.0 188.2 748.2 191.4 748.5 189.5 748.7 187.3 749.0 191.3 749.2 186.8 749.5 187.0 749.7 190.4 750.0 188.2 750.2 189.0 750.5 187.3 750.7 188.9 751.0 186.5 751.2 188.8 751.5 184.8 751.7 188.2 752.0 140.2 752.2 141.0 752.5 138.6 752.8 145.8 753.0 140.0 753.2 136.4 753.5 141.3 753.8 137.0 754.0 140.7 754.2 137.9 754.5 137.8 754.8 134.8 755.0 137.0 755.2 139.0 755.5 140.7 755.8 139.9 756.0 133.2 756.2 137.3 756.5 136.9 756.8 138.2 757.0 139.9 757.2 138.1 757.5 141.1 757.8 139.2 758.0 196.7 758.2 201.8 758.5 193.3 758.8 192.8 759.0 194.8 759.2 193.3 759.5 194.6 759.8 193.8 760.0 194.8 760.2 191.9 760.5 193.2 760.8 197.0 761.0 188.8 761.2 195.1 761.5 195.1 761.8 193.8 762.0 196.3 762.2 192.4 762.5 195.6 762.8 190.1 763.0 190.0 763.2 191.3 763.5 193.3 763.8 191.0 764.0 188.6 764.2 190.2 764.5 189.1 764.8 187.5 765.0 186.3 765.2 187.3 765.5 190.9 765.8 191.0 766.0 185.4 766.2 190.2 766.5 191.2 766.8 188.4 767.0 185.3 767.2 187.0 767.5 188.6 767.8 186.9 768.0 186.1 768.2 186.5 768.5 146.2 768.8 141.4 769.0 142.1 769.3 145.7 769.6 139.3 769.8 139.8 770.1 142.9 770.4 134.5 770.6 142.8 770.9 142.1 771.2 141.9 771.5 138.1 771.7 144.3 772.0 140.2 772.3 138.2 772.5 141.4 772.8 139.5 773.1 142.7 773.3 139.4 773.6 141.8 773.9 140.7 774.1 137.2 774.4 195.5 774.7 193.6 774.9 195.6 775.2 196.6 775.4 193.3 775.7 195.1 775.9 201.2 776.2 191.6 776.4 192.9 776.7 194.4 776.9 190.8 777.2 191.8 777.4 197.6 777.7 194.9 778.0 192.5 778.2 191.4 778.5 190.7 778.7 191.1 779.0 192.8 779.2 194.0 779.5 192.7 779.7 194.7 780.0 191.6 780.2 192.3 780.5 189.6 780.7 191.0 781.0 192.7 781.2 193.5 781.5 188.4 781.8 187.1 782.0 188.3 782.3 187.3 782.5 184.7 782.8 189.2 783.0 188.3 783.3 186.1 783.5 190.6 783.8 188.4 784.0 186.1 784.3 187.5 784.5 189.0 784.8 143.2 785.0 136.9 785.3 138.9 785.5 142.2 785.8 138.0 786.0 137.9 786.3 132.2 786.5 135.4 786.8 136.1 787.0 135.9 787.3 137.6 787.5 134.1 787.8 129.0 788.0 134.2 788.3 134.0 788.5 132.5 788.8 135.3 789.0 134.6 789.3 142.8 789.5 138.0 789.8 134.2 790.0 137.9 790.3 133.4 790.5 138.2 790.8 194.5 791.0 199.0 791.3 198.7 791.5 191.5 791.8 196.7 792.0 193.1 792.3 192.7 792.5 195.0 792.8 193.6 793.0 191.9 793.3 193.5 793.5 193.0 793.8 192.0 794.0 194.6 794.3 194.7 794.5 191.6 794.8 191.8 795.0 191.3 795.3 192.5 795.5 192.4 795.8 192.3 796.0 189.5 796.3 192.5 796.5 191.0 796.8 189.8 797.0 193.0 797.3 187.0 797.5 193.9 797.8 187.4 798.0 185.5 798.3 192.4 798.5 189.9 798.8 185.6 799.0 190.4 799.3 190.7 799.5 187.5 799.8 188.7 800.0 188.2 800.3 185.8 800.5 187.0 800.8 183.2 801.0 183.7 801.3 188.5 801.5 185.3 801.8 146.2 802.1 144.3 802.3 144.9 802.6 147.2 802.9 144.1 803.1 140.7 803.4 139.5 803.7 143.7 803.9 143.7 804.2 135.5 804.5 136.1 804.8 141.8 805.0 139.5 805.3 143.1 805.6 137.9 805.8 141.3 806.1 141.1 806.4 141.9 806.6 140.3 806.9 145.1 807.2 141.2 807.4 144.5 807.7 197.3 808.0 195.5 808.2 195.5 808.5 195.6 808.7 196.5 809.0 196.9 809.2 195.7 809.5 193.7 809.7 194.4 810.0 192.1 810.2 193.0 810.5 190.6 810.7 197.2 811.0 193.3 811.2 192.1 811.5 193.8 811.7 193.6 812.0 193.3 812.2 194.2 812.5 193.4 812.7 191.5 813.0 188.9 813.2 192.7 813.5 189.9 813.7 189.6 814.0 189.5 814.2 190.4 814.5 192.5 814.7 187.9 815.0 187.6 815.2 190.8 815.5 185.3 815.7 186.6 816.0 191.8 816.2 186.8 816.5 188.3 816.7 183.6 817.0 188.9 817.2 187.0 817.5 188.2 817.7 186.7 818.0 189.1 818.2 188.2 818.5 209.4 818.8 208.2 819.0 203.0 819.3 205.0 819.5 205.4 819.8 207.4 820.0 208.6 820.3 204.3 820.5 209.7 820.8 208.3 821.0 208.8 821.3 210.4 821.5 205.3 821.8 210.7 822.0 207.5 822.3 210.4 822.5 212.6 822.8 210.6 823.0 211.1 823.3 209.0 823.5 204.3 823.8 209.9 824.0 206.1 824.3 204.2 824.5 205.2 824.8 208.8 825.0 209.3 825.3 204.6 825.5 202.9 825.8 202.6 826.0 208.4 826.3 210.3 826.5 207.1 826.8 210.3 827.0 207.6 827.3 206.4 827.5 210.6 827.8 210.0 828.0 211.0 828.3 210.5 828.5 210.4 828.8 210.5 829.0 205.3 829.3 209.0 829.5 209.4 829.8 210.7 830.0 211.2 830.3 208.5 830.5 206.3 830.8 206.2 831.0 210.8 831.3 208.7 831.5 206.3 831.8 205.4 832.0 209.6 832.3 208.8 832.5 208.8 832.8 206.0 833.0 212.3 833.3 209.0 833.5 210.1 833.8 208.7 834.0 208.5 834.3 210.4 834.5 210.5 834.8 208.6 835.0 212.6 835.3 210.4 835.5 212.4 835.8 204.4 836.0 209.3 836.3 209.8 836.5 213.3 836.8 210.4 837.0 208.9 837.3 211.1 837.5 211.5 837.8 205.6 838.0 209.7 838.3 213.5 838.5 210.6 838.8 202.0 839.0 206.9 839.3 209.3 839.5 210.4 839.8 213.0 840.0 206.7 840.3 209.6 840.5 211.3 840.8 212.3 841.0 211.4 841.3 210.2 841.5 212.2 841.8 210.1 842.0 208.9 842.3 208.1 842.5 210.2 842.8 210.5 843.0 211.0 843.3 212.6 843.5 212.3 843.8 210.9 844.0 209.6 844.3 209.7 844.5 213.7 844.8 211.6 845.0 211.5 845.3 213.9 845.5 211.1 845.8 213.4 846.0 213.3 846.3 214.2 846.5 211.6 846.8 214.8 847.0 211.1 847.3 212.7 847.5 207.7 847.8 209.2 848.0 210.8 848.3 204.6 848.5 208.5 848.8 208.0 849.0 209.2 849.3 210.7 849.5 212.5 849.8 208.3 850.0 211.1 850.3 213.2 850.5 210.3 850.8 214.0 851.0 213.5 851.3 212.6 851.5 210.4 851.8 211.6 852.0 211.8 852.3 211.6 852.5 212.7 852.8 214.3 853.0 210.9 853.3 210.6 853.5 213.4 853.8 216.0 854.0 214.3 854.3 208.9 854.5 213.4 854.8 211.3 855.0 209.8 855.3 214.1 855.5 213.9 855.8 214.6 856.0 209.9 856.3 206.0 856.5 212.5 856.8 213.5 857.0 211.6 857.3 210.6 857.5 213.3 857.8 214.2 858.0 212.4 858.3 211.4 858.5 207.7 858.8 215.1 859.0 210.1 859.3 211.5 859.5 214.3 859.8 215.3 860.0 213.2 860.3 212.4 860.5 213.8 860.8 214.6 861.0 212.5 861.3 213.5 861.5 211.1 861.8 218.1 862.0 211.9 862.3 211.8 862.5 215.3 862.8 213.4 863.0 211.9 863.3 214.6 863.5 211.5 863.8 213.4 864.0 213.1 864.3 214.0 864.5 211.8 864.8 216.4 865.0 214.5 865.3 213.4 865.5 211.7 865.8 214.7 866.0 208.7 866.3 211.0 866.5 211.1 866.8 211.9 867.0 216.8 867.3 215.1 867.5 212.7 867.8 218.3 868.0 214.9 868.3 212.9 868.6 214.9 868.8 213.7 869.1 215.8 869.3 214.9 869.6 214.2 869.8 213.0 870.1 215.0 870.3 211.9 870.6 214.0 870.8 211.6 871.1 214.9 871.3 216.5 871.6 214.2 871.8 214.5 872.1 214.1 872.3 212.8 872.6 215.7 872.8 215.5 873.1 211.4 873.3 211.0 873.6 219.0 873.8 208.1 874.1 212.8 874.3 214.2 874.6 222.6 874.8 211.8 875.1 212.2 875.3 210.5 875.6 219.3 875.8 213.3 876.1 215.3 876.3 216.0 876.6 212.2 876.8 212.6 877.1 215.7 877.3 215.6 877.6 215.8 877.8 205.6 878.1 216.9 878.3 216.9 878.6 215.7 878.8 216.7 879.1 216.8 879.3 215.8 879.6 219.4 879.8 214.5 880.1 215.6 880.3 213.1 880.6 216.5 880.8 216.5 881.1 210.4 881.3 212.6 881.6 214.3 881.8 219.2 882.1 209.5 882.3 214.6 882.6 214.7 882.8 215.6 883.1 216.7 883.3 216.3 883.6 214.0 883.8 215.3 884.1 216.1 884.3 218.7 884.6 213.5 884.8 217.1 885.1 217.2 885.3 218.6 885.6 216.0 885.8 215.8 886.1 213.0 886.3 214.0 886.6 215.9 886.8 217.9 887.1 216.9 887.3 219.9 887.6 216.3 887.8 220.4 888.1 216.5 888.3 220.2 888.6 213.6 888.8 217.7 889.1 217.3 889.3 210.3 889.6 217.8 889.8 215.3 890.1 213.5 890.3 219.8 890.6 212.0 890.8 222.4 891.1 217.2 891.3 217.1 891.6 217.0 891.8 218.2 892.1 216.3 892.3 220.8 892.6 214.9 892.8 212.2 893.1 221.5 893.3 210.4 893.6 218.9 893.8 217.0 894.1 216.7 894.3 216.1 894.6 221.0 894.8 220.7 895.1 212.8 895.3 219.3 895.6 217.6 895.8 212.9 896.1 220.8 896.3 215.1 896.6 220.5 896.8 219.9 897.1 213.7 897.3 222.6 897.6 218.7 897.8 213.9 898.1 216.3 898.3 217.5 898.6 213.6 898.8 216.1 899.1 218.9 899.3 219.5 899.6 220.5 899.8 211.5 900.1 218.2 900.3 217.5 900.6 215.1 900.8 218.6 901.1 217.9 901.3 217.2 901.6 216.0 901.8 217.3 902.1 219.4 902.3 220.2 902.6 217.6 902.8 218.4 903.1 215.1 903.3 220.8 903.6 218.2 903.8 222.6 904.1 219.5 904.3 217.3 904.6 222.5 904.8 220.8 905.1 216.8 905.3 217.6 905.6 221.8 905.8 220.1 906.1 219.3 906.3 219.1 906.6 217.5 906.8 223.6 907.1 213.8 907.3 219.0 907.6 216.2 907.8 224.0 908.1 217.9 908.3 217.6 908.6 215.1 908.8 218.6 909.1 223.0 909.3 219.6 909.6 220.2 909.8 219.8 910.1 213.9 910.3 220.5 910.6 222.0 910.8 220.6 911.1 220.0 911.3 214.1 911.6 222.8 911.8 218.6 912.1 220.8 912.3 217.0 912.6 218.8 912.8 221.4 913.1 215.0 913.3 226.4 913.6 218.8 913.8 219.4 914.1 221.3 914.3 220.7 914.6 221.2 914.8 217.7 915.1 221.6 915.3 223.3 915.6 224.8 915.8 222.0 916.1 223.2 916.3 221.2 916.6 217.3 916.8 222.1 917.1 218.3 917.3 221.9 917.6 221.0 917.8 285.5 924.5 285.5" fill="none" stroke="#2fbf2f" stroke-width="1.15" stroke-linejoin="round"/>
 <rect x="40.5" y="73.2" width="884.5" height="212.8" fill="none" stroke="#777" stroke-width="1.3"/>
 <!-- y ticks -->
 <g stroke="#777" stroke-width="1">
  <line x1="37.4" y1="285.5" x2="40.5" y2="285.5"/>
  <line x1="37.4" y1="258.5" x2="40.5" y2="258.5"/>
  <line x1="37.4" y1="232.5" x2="40.5" y2="232.5"/>
  <line x1="37.4" y1="205.5" x2="40.5" y2="205.5"/>
  <line x1="37.4" y1="179.5" x2="40.5" y2="179.5"/>
  <line x1="37.4" y1="152.5" x2="40.5" y2="152.5"/>
  <line x1="37.4" y1="126.5" x2="40.5" y2="126.5"/>
  <line x1="37.4" y1="99.5" x2="40.5" y2="99.5"/>
 </g>
 <g font-size="6.2" fill="#666" text-anchor="end" letter-spacing="-0.3" transform="translate(0 1)">
  <text x="35.8" y="287.3">0 W</text>
  <text x="35.8" y="260.7">77 W</text>
  <text x="35.8" y="234.2">155 W</text>
  <text x="35.8" y="207.6">232 W</text>
  <text x="35.8" y="181">309 W</text>
  <text x="35.8" y="154.4">386 W</text>
  <text x="35.8" y="127.9">464 W</text>
  <text x="35.8" y="101.3">541 W</text>
 </g>
 <g stroke="#777" stroke-width="1">
  <line x1="40.5" y1="286" x2="40.5" y2="290.5"/>
  <line x1="188.4" y1="286" x2="188.4" y2="290.5"/>
  <line x1="336.3" y1="286" x2="336.3" y2="290.5"/>
  <line x1="483.4" y1="286" x2="483.4" y2="290.5"/>
  <line x1="631" y1="286" x2="631" y2="290.5"/>
  <line x1="779" y1="286" x2="779" y2="290.5"/>
 </g>
 <g font-size="7.1" fill="#555" text-anchor="middle" lengthAdjust="spacingAndGlyphs">
  <text x="40.9" y="298.4" textLength="30" lengthAdjust="spacingAndGlyphs">00:00:00</text>
  <text x="188.8" y="298.4" textLength="26.2" lengthAdjust="spacingAndGlyphs">00:14:49</text>
  <text x="336.5" y="298.4" textLength="27.1" lengthAdjust="spacingAndGlyphs">00:29:38</text>
  <text x="483.9" y="298.4" textLength="27.4" lengthAdjust="spacingAndGlyphs">00:44:27</text>
  <text x="631.5" y="298.4" textLength="25.8" lengthAdjust="spacingAndGlyphs">00:59:16</text>
  <text x="779.2" y="298.4" textLength="24.7" lengthAdjust="spacingAndGlyphs">01:14:05</text>
 </g>
</svg>
<div class="abs wc" style="left:9.3px;top:318.4px;width:98.1px;height:28.3px"><div class="lbl" style="top:3.5px">Elapsed</div><div class="val" style="top:12.1px">01:28:43</div></div>
<div class="abs wc" style="left:112.2px;top:318.4px;width:97.3px;height:28.3px"><div class="lbl" style="top:3.5px">Duration</div><div class="val" style="top:12.1px">01:28:43</div></div>
<div class="abs wc" style="left:214.8px;top:318.4px;width:97.6px;height:28.3px"><div class="lbl" style="top:3.5px">Distance</div><div class="val" style="top:12.1px">60.66 km</div></div>
<div class="abs wc" style="left:9.3px;top:351.7px;width:98.1px;height:29.1px"><div class="lbl" style="top:3.5px">Elev. Gain</div><div class="val" style="top:12.1px">77 m</div></div>
<div class="abs wc" style="left:112.2px;top:351.7px;width:97.3px;height:29.1px"><div class="lbl" style="top:3.5px">Elev. Loss</div><div class="val" style="top:12.1px">-76 m</div></div>
<div class="abs wc" style="left:214.8px;top:351.7px;width:97.6px;height:29.1px"><div class="lbl" style="top:3.5px">VAM</div><div class="val" style="top:12.1px">1 m/h</div></div>
<div class="abs wc" style="left:9.3px;top:385.8px;width:98.1px;height:30px"><div class="lbl" style="top:2.7px">Adj. Power</div><div class="val" style="top:11.299999999999999px">289 W</div></div>
<div class="abs wc" style="left:112.2px;top:385.8px;width:97.3px;height:30px"><div class="lbl" style="top:2.7px">Work</div><div class="val" style="top:11.299999999999999px">1,400 kJ</div></div>
<div class="abs wc" style="left:214.8px;top:385.8px;width:97.6px;height:30px"><div class="lbl" style="top:2.7px">Work &gt; CP</div><div class="val" style="top:11.299999999999999px">24 kJ</div></div>
<div class="abs wc" style="left:325.3px;top:318.6px;width:190.7px;height:40.9px"><div class="mt" style="left:5.5px;top:5.2px">Min</div><div class="mt" style="left:0;width:100%;text-align:center;top:5.2px;letter-spacing:-0.12px">Avg. Heart Rate</div><div class="mt" style="right:5.2px;top:5.2px">Max</div><div class="bar" style="left:6px;right:5.5px;top:17.8px;background:#f23b45"></div><div class="mv" style="left:5.5px;top:25.4px">106 bpm</div><div class="mv" style="left:0;width:100%;text-align:center;top:25.4px">154 bpm</div><div class="mv" style="right:5.2px;top:25.4px">183 bpm</div></div>
<div class="abs wc" style="left:521.2px;top:318.6px;width:190.7px;height:40.9px"><div class="mt" style="left:5.5px;top:5.2px">Min</div><div class="mt" style="left:0;width:100%;text-align:center;top:5.2px;letter-spacing:-0.12px">Avg. Speed</div><div class="mt" style="right:5.2px;top:5.2px">Max</div><div class="bar" style="left:6px;right:5.5px;top:17.8px;background:#f0189c"></div><div class="mv" style="left:5.5px;top:25.4px">1.93 km/h</div><div class="mv" style="left:0;width:100%;text-align:center;top:25.4px">41.04 km/h</div><div class="mv" style="right:5.2px;top:25.4px">51.8 km/h</div></div>
<div class="abs wc" style="left:716.3px;top:318.6px;width:190.7px;height:40.9px"><div class="mt" style="left:5.5px;top:5.2px">Min</div><div class="mt" style="left:0;width:100%;text-align:center;top:5.2px;letter-spacing:-0.12px">Avg. Altitude</div><div class="mt" style="right:5.2px;top:5.2px">Max</div><div class="bar" style="left:6px;right:5.5px;top:17.8px;background:#1e1f24"></div><div class="mv" style="left:5.5px;top:25.4px">12 m</div><div class="mv" style="left:0;width:100%;text-align:center;top:25.4px">13 m</div><div class="mv" style="right:5.2px;top:25.4px">17 m</div></div>
<div class="abs wc" style="left:325.3px;top:364.3px;width:190.7px;height:45px"><div class="mt" style="left:5.5px;top:5.7px">Min</div><div class="mt" style="left:0;width:100%;text-align:center;top:5.7px;letter-spacing:-0.12px">Avg. Power</div><div class="mt" style="right:5.2px;top:5.7px">Max</div><div class="bar" style="left:6px;right:5.5px;top:17.4px;background:#2bc23b"></div><div class="mv" style="left:5.5px;top:25.9px">0 W</div><div class="mv" style="left:0;width:100%;text-align:center;top:25.9px">263 W</div><div class="mv" style="right:5.2px;top:25.9px">446 W</div></div>
<div class="abs wc" style="left:521.2px;top:364.3px;width:190.7px;height:45px"><div class="mt" style="left:5.5px;top:5.7px">Min</div><div class="mt" style="left:0;width:100%;text-align:center;top:5.7px;letter-spacing:-0.12px">Avg. Cadence</div><div class="mt" style="right:5.2px;top:5.7px">Max</div><div class="bar" style="left:6px;right:5.5px;top:17.4px;background:#5210d6"></div><div class="mv" style="left:5.5px;top:25.9px">67 rpm</div><div class="mv" style="left:0;width:100%;text-align:center;top:25.9px">85 rpm</div><div class="mv" style="right:5.2px;top:25.9px">104 rpm</div></div>
<div class="abs wc" style="left:716.3px;top:364.3px;width:190.7px;height:45px"><div class="mt" style="left:5.5px;top:5.7px">Min</div><div class="mt" style="left:0;width:100%;text-align:center;top:5.7px;letter-spacing:-0.12px">Avg. Torque</div><div class="mt" style="right:5.2px;top:5.7px">Max</div><div class="bar" style="left:6px;right:5.5px;top:17.4px;background:#9d22f2"></div><div class="mv" style="left:5.5px;top:25.9px">0 Nm</div><div class="mv" style="left:0;width:100%;text-align:center;top:25.9px">30 Nm</div><div class="mv" style="right:5.2px;top:25.9px">48 Nm</div></div>
<div class="abs wc" style="left:911.2px;top:318.1px;width:29px;height:100px"></div>
<div class="abs" style="left:915.2px;top:320.2px;width:22.1px;height:22.4px;background:#000;border-radius:4px"></div>
<svg class="abs" style="left:0;top:0;z-index:5" width="945" height="403" viewBox="0 0 945 403" fill="none" stroke-linecap="round" stroke-linejoin="round">
 <!-- bike -->
 <g stroke="#111" stroke-width="1.3">
  <circle cx="43.1" cy="23.6" r="2.6"/>
  <circle cx="54.85" cy="23.6" r="2.6"/>
  <circle cx="51.6" cy="13.8" r="1.6"/>
  <path d="M48.8 25.6 V21.2 L45.9 18.2 L47.8 16.3 Q49.6 15.8 50.3 17.3 Q50.9 18.2 53.8 18.2"/>
 </g>
 <!-- nav chevrons -->
 <g stroke="#6a6a6a" stroke-width="1.05">
  <path d="M73.4 12.7 L71.4 14.8 L73.4 16.9"/>
  <path d="M87 12.7 L89 14.8 L87 16.9"/>
 </g>
 <!-- list icon -->
 <g stroke="#555" stroke-width="1.05">
  <path d="M645.1 16.4 H651.2 M645.1 19.7 H651.2 M645.1 23 H651.2"/>
 </g>
 <g fill="#888"><rect x="642" y="15.9" width="0.9" height="1"/><rect x="642" y="19.2" width="0.9" height="1"/><rect x="642" y="22.5" width="0.9" height="1"/></g>
 <!-- streams chart icon -->
 <g stroke="#fff" stroke-width="0.8">
  <path d="M672.6 16.1 V23.9 H682"/>
  <path d="M672.8 18.6 L676.2 21.2 L678.6 19.9 L682 18.1"/>
 </g>
 <!-- pin heart -->
 <g stroke="#222" stroke-width="0.9">
  <path d="M739.4 15.3 L736.3 18.8 L738.5 20.2 M739.4 15.3 L740.4 18.4 M738.3 20.3 L737.3 22.6"/>
  <path transform="translate(742.6 21.9) rotate(-12)" d="M0 2.9 L-2.7 0.3 Q-3.6 -0.8 -3 -1.9 Q-2 -3.1 -0.6 -2.2 L0 -1.6 L0.6 -2.2 Q2 -3.1 3 -1.9 Q3.6 -0.8 2.7 0.3 Z"/>
 </g>
 <!-- watch -->
 <g stroke="#444" stroke-width="0.9">
  <circle cx="770.9" cy="19.6" r="3.3"/>
  <path d="M769.3 16.8 L769.7 14.6 Q770.9 14.1 772.1 14.6 L772.5 16.8 M769.3 22.4 L769.7 24.6 Q770.9 25.1 772.1 24.6 L772.5 22.4"/>
  <path d="M770.5 18.3 L771.6 19.6"/>
 </g>
 <!-- star -->
 <path stroke="#444" stroke-width="0.9" d="M801.4 14.5 L803 18 L806.7 18.3 L803.9 20.7 L804.8 24.6 L801.4 22.6 L798 24.6 L798.9 20.7 L796.1 18.3 L799.8 18 Z"/>
 <!-- arrows -->
 <g stroke="#333" stroke-width="0.9">
  <path d="M829.5 17.3 H836"/>
  <path d="M827.6 22.2 H834.3"/>
 </g>
 <g fill="#333"><path d="M827.6 17.3 L830.2 15.6 V19 Z"/><path d="M836.2 22.2 L833.6 20.5 V23.9 Z"/></g>
 <!-- chat -->
 <path d="M863.2 23.2 A5 5 0 1 1 865.6 24.9 L862.6 25.2 Z" fill="#d9d9d9" stroke="#3a3a3a" stroke-width="0.9"/>
 <circle cx="870.6" cy="22.9" r="3.5" fill="#f4b400" stroke="none"/>
 <text x="870.6" y="25.1" font-size="5.6" font-weight="bold" fill="#333" stroke="none" text-anchor="middle" font-family="Liberation Sans, sans-serif">2</text>
 <!-- intervals logo -->
 <g stroke="#000" stroke-width="1.7">
  <path d="M894 19.7 H896.6 Q900.1 19.7 900.1 23.1 V25.6"/>
  <path d="M899.9 13.8 V16.3 Q899.9 19.7 903.3 19.7 H906.3"/>
 </g>
 <circle cx="903.1" cy="16.4" r="0.9" fill="#000"/>
 <!-- dots -->
 <g fill="#333"><circle cx="931.9" cy="16.6" r="0.75"/><circle cx="931.9" cy="19.9" r="0.75"/><circle cx="931.9" cy="23.2" r="0.75"/></g>
 <!-- chart card icons -->
 <g stroke="#333" stroke-width="0.8">
  <circle cx="871.5" cy="63.4" r="2.6"/>
  <path d="M870 61 L870.3 59.4 H872.7 L873 61 M870 65.8 L870.3 67.4 H872.7 L873 65.8 M871.4 62.3 L872.2 63.4"/>
 </g>
 <g stroke="#333" stroke-width="0.75">
  <path d="M891.2 59.9 L888.6 62.8 L890.4 63.9 M891.2 59.9 L892 62.5 M890.3 64 L889.5 65.8"/>
  <path transform="translate(893.3 64.7) rotate(-12)" d="M0 2.4 L-2.2 0.25 Q-2.9 -0.65 -2.45 -1.55 Q-1.6 -2.5 -0.5 -1.8 L0 -1.3 L0.5 -1.8 Q1.6 -2.5 2.45 -1.55 Q2.9 -0.65 2.2 0.25 Z"/>
 </g>
 <g stroke="#333" stroke-width="0.8">
  <path d="M908.6 60.3 V66.5 H915"/>
  <path d="M908.8 63.4 L910.9 64.8 L912.6 63.9 L915 62.3"/>
 </g>
 <g stroke="#333" stroke-width="0.8">
  <path d="M927.8 61.1 L929.9 60.5 L932.3 61.1 L934.8 60.5 V66.2 L932.3 66.8 L929.9 66.2 L927.8 66.8 Z M929.9 60.5 V66.2 M932.3 61.1 V66.8"/>
 </g>
 <path d="M932.3 61.1 L934.8 60.5 V66.2 L932.3 66.8 Z" fill="#bbb" stroke="none" opacity="0.6"/>
 <!-- sidebar icons -->
 <g stroke="#fff" stroke-width="1.1">
  <path d="M922.6 329.4 H924.9 M923.75 328.25 V330.55"/>
  <path d="M923.1 334.6 L929.1 328.8"/>
  <path d="M927.2 333.9 H930.7"/>
 </g>
 <g stroke="#555" stroke-width="0.8">
  <rect x="922.1" y="353.1" width="8.4" height="6.2" rx="1"/>
  <path d="M922.1 355.1 H930.5 M922.1 357.2 H930.5 M924.6 355.1 V359.3"/>
 </g>
 <g stroke="#444" stroke-width="0.8">
  <path d="M921.6 383.5 L924.9 378.7 L927.9 382.4 L929 380.2 L931 383.5 Z"/>
  <path d="M927.6 375.6 V377.8 M926.5 376.7 H928.7"/>
 </g>
 <path stroke="#555" stroke-width="0.9" d="M924.6 403.5 V401.4 A1.6 1.6 0 0 1 927.8 401.4 V403.5"/>
</svg>
</body></html>
